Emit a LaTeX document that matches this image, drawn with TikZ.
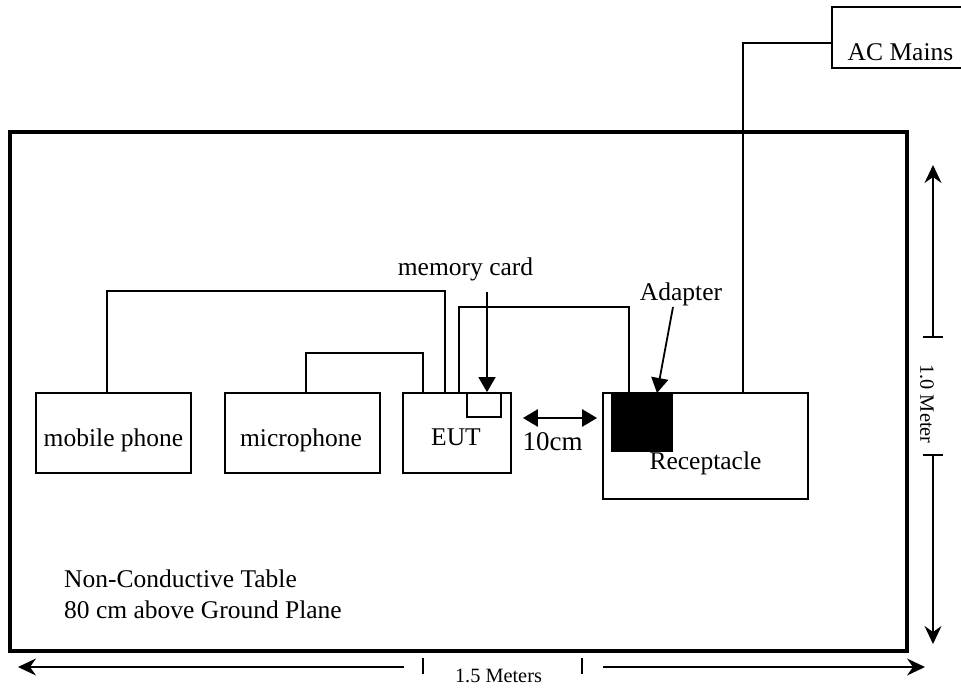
\documentclass[tikz,border=0pt]{standalone}
\usepackage{fontspec}
\setmainfont{Liberation Serif}
\usetikzlibrary{arrows.meta}
\tikzset{
  box/.style={draw, line width=1.8pt, inner sep=0pt},
  lbl/.style={inner sep=0pt, font=\fontsize{25.5}{31}\selectfont},
  small/.style={inner sep=0pt, font=\fontsize{20.3}{24}\selectfont},
  wire/.style={line width=1.6pt},
  pointer/.style={line width=1.8pt, -ptip},
  dimline/.style={line width=1.3pt},
  dimtip/.tip={Stealth[length=18pt,width=17pt,inset=6pt]},
  ptip/.tip={Triangle[length=15pt,width=17pt]},
}
\begin{document}
\begin{tikzpicture}[x=1pt,y=-1pt]
\useasboundingbox (0,0) rectangle (961,688);
% table
\node[draw, line width=3.6pt, minimum width=897pt, minimum height=519pt, inner sep=0pt] (table) at (458.5,391.5) {};
% boxes
\node[box, minimum width=155pt, minimum height=80pt] (mobile) at (113.5,433) {};
\node[box, minimum width=155pt, minimum height=80pt] (micro) at (302.5,433) {};
\node[box, minimum width=108pt, minimum height=80pt] (eut) at (457,433) {};
\node[box, minimum width=34pt, minimum height=24pt] (slot) at (484,405) {};
\node[box, minimum width=205pt, minimum height=106pt] (recept) at (705.5,446) {};
\node[draw, fill=black, line width=0pt, minimum width=61pt, minimum height=58pt, inner sep=0pt] (adapter) at (641.5,422) {};
\node[box, minimum width=140pt, minimum height=61pt] (ac) at (902,37.5) {};
% texts
\node[lbl, anchor=base] (tmobile) at (113.5,446) {mobile phone};
\node[lbl, anchor=base] (tmicro) at (301,446) {microphone};
\node[lbl, anchor=base] (teut) at (456,445) {EUT};
\node[lbl, anchor=base] (trecept) at (705.5,469.5) {Receptacle};
\node[lbl, anchor=base] (tac) at (900.5,60) {AC Mains};
\node[lbl, anchor=base] (tmem) at (465.5,275) {memory card};
\node[lbl, anchor=base] (tadapter) at (681,300) {Adapter};
\node[inner sep=0pt, font=\fontsize{27}{32}\selectfont, anchor=base] (tcm) at (552.5,450) {10cm};
\node[lbl, anchor=north west, align=left] (ttable) at (64,570) {Non-Conductive Table\\80 cm above Ground Plane};
\node[small, anchor=base] (tw) at (498.5,682) {1.5 Meters};
\node[small, rotate=-90] (th) at (927,404) {1.0 Meter};
% wires
\draw[wire] ([xshift=-6.5pt]mobile.north) -- ++(0,-101) -| ([xshift=-12pt]eut.north);
\draw[wire] ([xshift=3.5pt]micro.north) -- ++(0,-39) -| ([xshift=-34pt]eut.north);
\draw[wire] ([xshift=2pt]eut.north) -- ++(0,-85) -| ([xshift=-76.5pt]recept.north);
\draw[wire] ([xshift=37.5pt]recept.north) |- ([yshift=-5.5pt]ac.west);
% pointers
\coordinate (mcs) at (487,292);
\coordinate (ads) at (673,307);
\draw[pointer] (mcs) -- ([xshift=3pt]slot.north);
\draw[pointer] (ads) -- ([xshift=15.5pt]adapter.north);
\draw[line width=2.6pt, ptip-ptip] ([xshift=11pt,yshift=15pt]eut.east) -- ([xshift=-5pt,yshift=28pt]recept.west);
% height dimension
\coordinate (vtop) at (933,165);
\coordinate (vt1) at (933,337);
\coordinate (vt2) at (933,455);
\coordinate (vbot) at (933,644);
\draw[dimline, dimtip-] (vtop) -- (vt1);
\draw[dimline] ([xshift=-10pt]vt1) -- ([xshift=10pt]vt1);
\draw[dimline, -dimtip] (vt2) -- (vbot);
\draw[dimline] ([xshift=-10pt]vt2) -- ([xshift=10pt]vt2);
% width dimension
\coordinate (hl) at (18,667);
\coordinate (hl2) at (404,667);
\coordinate (hr2) at (603,667);
\coordinate (hr) at (925,667);
\coordinate (tk1) at (423,666);
\coordinate (tk2) at (582,666);
\draw[dimline, dimtip-] (hl) -- (hl2);
\draw[dimline, -dimtip] (hr2) -- (hr);
\draw[dimline] ([yshift=8pt]tk1) -- ([yshift=-8pt]tk1);
\draw[dimline] ([yshift=8pt]tk2) -- ([yshift=-8pt]tk2);
\end{tikzpicture}
\end{document}
